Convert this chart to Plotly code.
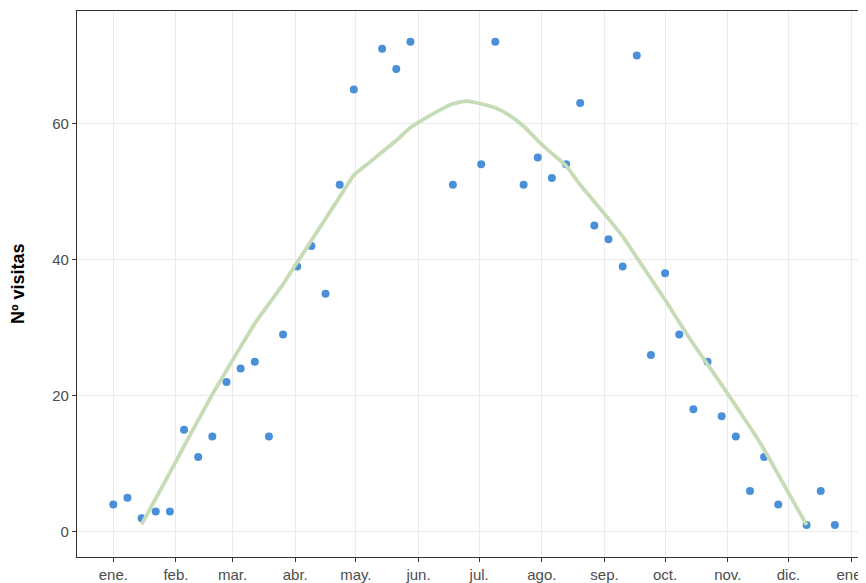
import datetime as dt
import plotly.graph_objects as go

# ---- data ----
point_dates = [
    "2019-01-01", "2019-01-08", "2019-01-15", "2019-01-22", "2019-01-29",
    "2019-02-05", "2019-02-12", "2019-02-19", "2019-02-26", "2019-03-05",
    "2019-03-12", "2019-03-19", "2019-03-26", "2019-04-02", "2019-04-09",
    "2019-04-16", "2019-04-23", "2019-04-30", "2019-05-14", "2019-05-21",
    "2019-05-28", "2019-06-18", "2019-07-02", "2019-07-09", "2019-07-23",
    "2019-07-30", "2019-08-06", "2019-08-13", "2019-08-20", "2019-08-27",
    "2019-09-03", "2019-09-10", "2019-09-17", "2019-09-24", "2019-10-01",
    "2019-10-08", "2019-10-15", "2019-10-22", "2019-10-29", "2019-11-05",
    "2019-11-12", "2019-11-19", "2019-11-26", "2019-12-10", "2019-12-17",
    "2019-12-24",
]
visitas = [
    4, 5, 2, 3, 3,
    15, 11, 14, 22, 24,
    25, 14, 29, 39, 42,
    35, 51, 65, 71, 68,
    72, 51, 54, 72, 51,
    55, 52, 54, 63, 45,
    43, 39, 70, 26, 38,
    29, 18, 25, 17, 14,
    6, 11, 4, 1, 6,
    1,
]

smooth_dates = [
    "2019-01-15", "2019-01-22", "2019-01-29", "2019-02-05", "2019-02-12",
    "2019-02-19", "2019-02-26", "2019-03-05", "2019-03-12", "2019-03-19",
    "2019-03-26", "2019-04-02", "2019-04-09", "2019-04-16", "2019-04-23",
    "2019-04-30", "2019-05-07", "2019-05-14", "2019-05-21", "2019-05-28",
    "2019-06-04", "2019-06-11", "2019-06-18", "2019-06-25", "2019-07-02",
    "2019-07-09", "2019-07-16", "2019-07-23", "2019-07-30", "2019-08-06",
    "2019-08-13", "2019-08-20", "2019-08-27", "2019-09-03", "2019-09-10",
    "2019-09-17", "2019-09-24", "2019-10-01", "2019-10-08", "2019-10-15",
    "2019-10-22", "2019-10-29", "2019-11-05", "2019-11-12", "2019-11-19",
    "2019-11-26", "2019-12-03", "2019-12-10",
]
smooth_values = [
    1.1, 4.9, 8.7, 12.6, 16.4,
    20.2, 23.7, 27.2, 30.6, 33.5,
    36.4, 39.6, 42.8, 46.0, 49.2,
    52.4, 54.1, 55.8, 57.5, 59.4,
    60.7, 61.9, 62.9, 63.3, 62.9,
    62.3, 61.2, 59.6, 57.5, 55.6,
    53.8, 51.0, 48.5, 46.0, 43.4,
    40.3, 37.2, 34.1, 30.8, 27.6,
    24.6, 21.6, 18.5, 15.4, 12.1,
    8.4, 4.7, 1.0,
]

month_ticks = [
    "2019-01-01", "2019-02-01", "2019-03-01", "2019-04-01", "2019-05-01",
    "2019-06-01", "2019-07-01", "2019-08-01", "2019-09-01", "2019-10-01",
    "2019-11-01", "2019-12-01", "2020-01-01",
]
month_labels = ["ene.", "feb.", "mar.", "abr.", "may.", "jun.", "jul.",
                "ago.", "sep.", "oct.", "nov.", "dic.", "ene."]
y_ticks = [0, 20, 40, 60]

# ---- figure ----
fig = go.Figure()
fig.add_trace(go.Scatter(
    x=point_dates, y=visitas, mode="markers",
    marker=dict(color="#4A90D9", size=8, line=dict(width=0)),
    showlegend=False, hoverinfo="x+y",
))
fig.add_trace(go.Scatter(
    x=smooth_dates, y=smooth_values, mode="lines",
    line=dict(color="#C5DCB6", width=3.8, shape="spline", smoothing=0.5),
    showlegend=False,
))

start = dt.datetime(2019, 1, 1)
x0 = start - dt.timedelta(days=17.96)
x1 = start + dt.timedelta(days=372.4)

tick_font = dict(family="Liberation Sans, Arial, sans-serif", size=15, color="#4D4D4D")

# page body has an 8px margin, so the figure is offset by 8px
fig.update_layout(
    width=858, height=575,
    margin=dict(l=69, r=0, t=3, b=23),
    paper_bgcolor="white", plot_bgcolor="white",
    font=dict(family="Liberation Sans, Arial, sans-serif"),
    xaxis=dict(
        range=[x0, x1], tickmode="array", tickvals=month_ticks, ticktext=month_labels,
        showgrid=True, gridcolor="#EBEBEB", gridwidth=1,
        showline=True, linecolor="#333333", linewidth=1.3, mirror=True,
        ticks="outside", ticklen=4, tickcolor="#333333", tickwidth=1.1,
        tickfont=tick_font, zeroline=False,
    ),
    yaxis=dict(
        range=[-3.70, 76.53], tickmode="array", tickvals=y_ticks,
        showgrid=True, gridcolor="#EBEBEB", gridwidth=1,
        showline=True, linecolor="#333333", linewidth=1.3, mirror=False,
        ticks="outside", ticklen=4, tickcolor="#333333", tickwidth=1.1,
        tickfont=tick_font, zeroline=False,
    ),
    annotations=[dict(
        text="<b>Nº visitas</b>", xref="paper", yref="paper",
        x=0, y=0.5, xshift=-59, xanchor="center", yanchor="middle",
        textangle=-90, showarrow=False,
        font=dict(family="Liberation Sans, Arial, sans-serif", size=18, color="#000000"),
    )],
)

fig.write_html("out.html")
